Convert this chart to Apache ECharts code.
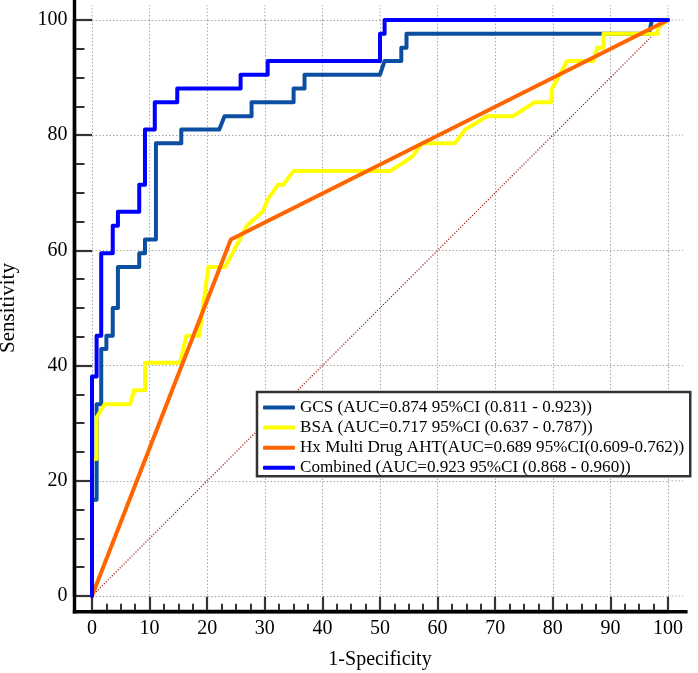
<!DOCTYPE html>
<html>
<head>
<meta charset="utf-8">
<script src="https://cdn.jsdelivr.net/npm/echarts@6/dist/echarts.min.js"></script>
<style>html,body{margin:0;padding:0;background:#fff}#c{width:698px;height:673px}</style>
</head>
<body>
<div id="c"></div>
<script>
// ---- data ----
const xTicks = [0,10,20,30,40,50,60,70,80,90,100];
const yTicks = [0,20,40,60,80,100];
const seriesNames = [
  'GCS (AUC=0.874 95%CI (0.811 - 0.923))',
  'BSA (AUC=0.717 95%CI (0.637 - 0.787))',
  'Hx Multi Drug AHT(AUC=0.689 95%CI(0.609-0.762))',
  'Combined (AUC=0.923 95%CI (0.868 - 0.960))'
];
const gcs = [[0,0],[0,16.7],[0.8,16.7],[0.8,33.3],[1.6,33.3],[1.6,42.9],[2.5,42.9],[2.5,45.2],[3.6,45.2],[3.6,50.0],[4.5,50.0],[4.5,57.1],[8.2,57.1],[8.2,59.5],[9.2,59.5],[9.2,61.9],[11.1,61.9],[11.1,78.6],[15.5,78.6],[15.5,81.0],[22.1,81.0],[23.0,83.3],[27.7,83.3],[27.7,85.7],[35.0,85.7],[35.0,88.1],[36.9,88.1],[36.9,90.5],[50.0,90.5],[50.8,92.9],[53.7,92.9],[53.7,95.2],[54.6,95.2],[54.6,97.6],[96.7,97.6],[97.2,100],[100,100]];
const bsa = [[0,0],[0,23.8],[0.8,23.8],[0.8,31.0],[2.2,33.3],[6.6,33.3],[7.3,35.7],[9.2,35.7],[9.2,40.5],[15.3,40.5],[16.4,45.2],[18.6,45.2],[20.2,57.1],[23.1,57.1],[26.9,64.3],[29.6,66.7],[30.6,69.0],[32.3,71.4],[33.2,71.4],[35.0,73.8],[51.8,73.8],[55.5,76.2],[57.3,78.6],[63.0,78.6],[64.8,81.0],[68.6,83.3],[73.1,83.3],[76.8,85.7],[79.7,85.7],[79.9,88.1],[82.5,92.9],[87.1,92.9],[87.7,95.2],[88.8,95.2],[88.8,97.6],[98.3,97.6],[98.3,98.8],[100,100]];
const hx = [[0,0],[24.1,61.9],[100,100]];
const combined = [[0,0],[0,38.1],[0.8,38.1],[0.8,45.2],[1.6,45.2],[1.6,59.5],[3.6,59.5],[3.6,64.3],[4.5,64.3],[4.5,66.7],[8.2,66.7],[8.2,71.4],[9.2,71.4],[9.2,81.0],[10.9,81.0],[10.9,85.7],[14.8,85.7],[14.8,88.1],[25.8,88.1],[25.8,90.5],[30.5,90.5],[30.5,92.9],[50.0,92.9],[50.0,97.6],[50.8,97.6],[50.8,100],[100,100]];
const diagonal = [[0,0],[100,100]];
const colors = ['#0B4EA2','#FFFF00','#FF6600','#0000FF'];

const FONT = '"Liberation Serif", "Times New Roman", serif';
const chart = echarts.init(document.getElementById('c'), null, {renderer:'canvas'});
const YOFF = 17.5, XOFF = 15.7;
const gridStyle = {color:'#a8a8a8', width:1, type:[1.5,2]};

function lineSeries(name, data, color, z){
  return {name, type:'line', data, showSymbol:false, symbol:'none', z,
    lineStyle:{color, width:4, cap:'round', join:'round'}, itemStyle:{color}, silent:true};
}

chart.setOption({
  animation:false,
  backgroundColor:'#fff',
  grid:{left:92, top:20, width:576, height:576, containLabel:false, outerBoundsMode:'none'},
  xAxis:{type:'value', min:0, max:100, interval:10, offset:XOFF,
    name:'1-Specificity', nameLocation:'middle', nameGap:38,
    nameTextStyle:{fontFamily:FONT, fontSize:20, color:'#000'},
    axisLine:{show:true, onZero:false, lineStyle:{color:'#000', width:3.4}},
    axisTick:{show:true, inside:true, length:15, lineStyle:{color:'#333', width:2.2}},
    minorTick:{show:true, splitNumber:4, length:8, lineStyle:{color:'#333', width:2}},
    axisLabel:{fontFamily:FONT, fontSize:20, color:'#000', margin:7},
    splitLine:{show:true, lineStyle:gridStyle}},
  yAxis:{type:'value', min:0, max:100, interval:20, offset:YOFF,
    name:'Sensitivity', nameLocation:'middle', nameGap:56, nameRotate:90,
    nameTextStyle:{fontFamily:FONT, fontSize:21, color:'#000'},
    axisLine:{show:true, onZero:false, lineStyle:{color:'#000', width:3.4}},
    axisTick:{show:true, inside:true, length:17.5, lineStyle:{color:'#333', width:2.2}},
    minorTick:{show:true, splitNumber:4, length:10, lineStyle:{color:'#333', width:2}},
    axisLabel:{fontFamily:FONT, fontSize:20, color:'#000', margin:7},
    splitLine:{show:true, lineStyle:gridStyle}},
  legend:{orient:'vertical', left:257, top:392, padding:[7,6,0,6],
    itemWidth:32, itemHeight:4, itemGap:3.1, icon:'roundRect',
    backgroundColor:'#fff', borderColor:'#333', borderWidth:2.5,
    textStyle:{fontFamily:FONT, fontSize:17.1, lineHeight:16, color:'#000'},
    data:seriesNames},
  series:[
    {name:'ref', type:'line', data:diagonal, showSymbol:false, symbol:'none', z:1, silent:true,
      lineStyle:{color:'#a01818', width:1.2, type:[1.2,1.6]}},
    lineSeries(seriesNames[0], gcs, colors[0], 2),
    lineSeries(seriesNames[1], bsa, colors[1], 3),
    lineSeries(seriesNames[2], hx, colors[2], 4),
    lineSeries(seriesNames[3], combined, colors[3], 5)
  ]
});

// axis line and grid line extensions beyond the 0-100 range
const p0 = chart.convertToPixel({gridIndex:0},[0,0]);
const p1 = chart.convertToPixel({gridIndex:0},[100,100]);
const sx = (p1[0]-p0[0])/100, sy = (p0[1]-p1[1])/100;
const axY = p0[1] + XOFF, axX = p0[0] - YOFF;
const g = [];
xTicks.forEach(v => {
  const px = chart.convertToPixel({gridIndex:0},[v,100]);
  g.push({type:'line', z:0, shape:{x1:px[0], y1:px[1], x2:px[0], y2:p0[1]-102.6*sy}, style:{stroke:gridStyle.color, lineWidth:1, lineDash:gridStyle.type}, silent:true});
});
yTicks.forEach(v => {
  const px = chart.convertToPixel({gridIndex:0},[100,v]);
  g.push({type:'line', z:0, shape:{x1:px[0], y1:px[1], x2:p0[0]+102.6*sx, y2:px[1]}, style:{stroke:gridStyle.color, lineWidth:1, lineDash:gridStyle.type}, silent:true});
});
g.push({type:'line', z:10, shape:{x1:axX-1.7, y1:axY, x2:p0[0]+103.4*sx, y2:axY}, style:{stroke:'#000', lineWidth:3.4}, silent:true});
g.push({type:'line', z:10, shape:{x1:axX, y1:axY+1.7, x2:axX, y2:p0[1]-103.6*sy}, style:{stroke:'#000', lineWidth:3.4}, silent:true});
chart.setOption({graphic:g});
</script>
</body>
</html>
